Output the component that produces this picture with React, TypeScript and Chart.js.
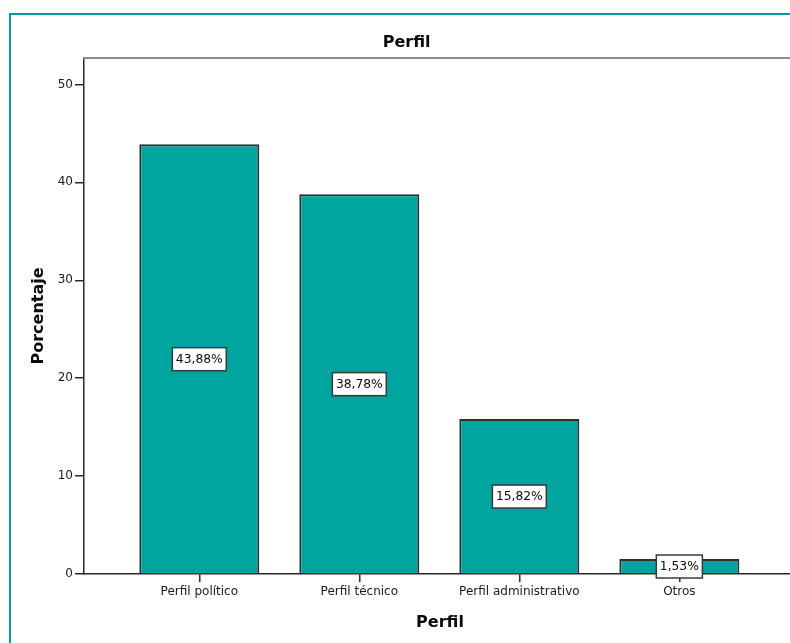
import React, { useEffect, useRef } from "react";
import { Chart, registerables } from "chart.js";

Chart.register(...registerables);

const categories = ["Perfil político", "Perfil técnico", "Perfil administrativo", "Otros"];
const percentages = [43.88, 38.78, 15.82, 1.53];
const yTickValues = [0, 10, 20, 30, 40, 50];
const chartTitle = "Perfil";
const xAxisTitle = "Perfil";
const yAxisTitle = "Porcentaje";

const FONT = "'DejaVu Sans', sans-serif";
const BAR_COLOR = "#01A5A0";
const FRAME_COLOR = "#0A9B96";

export default function App() {
  const ref = useRef<HTMLCanvasElement>(null);

  useEffect(() => {
    const canvas = ref.current;
    if (!canvas) return;

    const labelPlugin = {
      id: "barLabels",
      afterDatasetsDraw(chart: any) {
        const ctx = chart.ctx;
        const meta = chart.getDatasetMeta(0);
        const yScale = chart.scales.y;
        ctx.save();
        ctx.font = `12.3px ${FONT}`;
        ctx.textAlign = "center";
        ctx.textBaseline = "middle";
        meta.data.forEach((bar: any, i: number) => {
          const v = percentages[i];
          const text = v.toFixed(2).replace(".", ",") + "%";
          const cx = bar.x;
          const cy = yScale.getPixelForValue(v / 2);
          const w = ctx.measureText(text).width + 7;
          const h = 23;
          ctx.fillStyle = "#ffffff";
          ctx.fillRect(cx - w / 2, cy - h / 2, w, h);
          ctx.strokeStyle = "#3a3a3a";
          ctx.lineWidth = 1.5;
          ctx.strokeRect(cx - w / 2, cy - h / 2, w, h);
          ctx.fillStyle = "#0a0a0a";
          ctx.fillText(text, cx, cy + 0.5);
        });
        ctx.restore();
      },
    };

    const topBorderPlugin = {
      id: "topBorder",
      afterDraw(chart: any) {
        const ctx = chart.ctx;
        const { left, top } = chart.chartArea;
        ctx.save();
        ctx.strokeStyle = "#8c8c8c";
        ctx.lineWidth = 2;
        ctx.beginPath();
        ctx.moveTo(left - 1, top);
        ctx.lineTo(chart.width, top);
        ctx.stroke();
        ctx.restore();
      },
    };

    const chart = new Chart(canvas, {
      type: "bar",
      data: {
        datasets: [
          {
            label: "Porcentaje",
            data: percentages.map((v, i) => ({ x: i, y: v })),
            backgroundColor: BAR_COLOR,
            borderColor: "#2e2e2e",
            borderWidth: 2,
            categoryPercentage: 1,
            barPercentage: 0.75,
          },
        ],
      },
      options: {
        responsive: false,
        animation: false,
        devicePixelRatio: 1,
        layout: { padding: { left: 17.4, right: 0, top: 28, bottom: 0 } },
        plugins: {
          legend: { display: false },
          tooltip: { enabled: false },
          title: {
            display: true,
            text: chartTitle,
            color: "#0a0a0a",
            font: { family: FONT, size: 16, weight: "bold" },
            padding: { top: 5.4, bottom: 5.4 },
          },
        },
        scales: {
          x: {
            type: "linear",
            min: -0.7206,
            max: 3.729,
            offset: false,
            afterBuildTicks: (s: any) => {
              s.ticks = categories.map((_, i) => ({ value: i }));
            },
            afterFit: (s: any) => {
              s.height = 69;
            },
            ticks: {
              autoSkip: false,
              maxRotation: 0,
              padding: 3,
              color: "#1a1a1a",
              font: { family: FONT, size: 12 },
              callback: (_v: any, index: number) => categories[index] ?? "",
            },
            grid: {
              offset: false,
              drawOnChartArea: false,
              drawTicks: true,
              tickLength: 8,
              color: "#2a2a2a",
              lineWidth: 1.5,
            },
            border: { display: true, color: "#2a2a2a", width: 1.5 },
            title: {
              display: true,
              text: xAxisTitle,
              color: "#0a0a0a",
              font: { family: FONT, size: 16, weight: "bold" },
              padding: { top: 0, bottom: 11 },
            },
          },
          y: {
            type: "linear",
            min: 0,
            max: 52.7,
            afterBuildTicks: (s: any) => {
              s.ticks = yTickValues.map((v) => ({ value: v }));
            },
            afterFit: (s: any) => {
              s.width = 66.6;
            },
            ticks: {
              padding: 2,
              color: "#1a1a1a",
              font: { family: FONT, size: 12 },
            },
            grid: {
              drawOnChartArea: false,
              drawTicks: true,
              tickLength: 9,
              color: "#2a2a2a",
              lineWidth: 1.5,
            },
            border: { display: true, color: "#2a2a2a", width: 1.5 },
            title: {
              display: true,
              text: yAxisTitle,
              color: "#0a0a0a",
              font: { family: FONT, size: 16, weight: "bold" },
              padding: { top: 11.5, bottom: 0 },
            },
          },
        },
      } as any,
      plugins: [labelPlugin, topBorderPlugin],
    });

    return () => chart.destroy();
  }, []);

  return (
    <div
      style={{
        position: "fixed",
        left: 0,
        top: 0,
        width: 790,
        height: 643,
        overflow: "hidden",
        background: "#ffffff",
      }}
    >
      <div
        style={{
          position: "absolute",
          left: 9,
          top: 13,
          width: 900,
          height: 800,
          borderLeft: `2px solid ${FRAME_COLOR}`,
          borderTop: `2px solid ${FRAME_COLOR}`,
          boxSizing: "border-box",
        }}
      />
      <canvas
        ref={ref}
        width={796}
        height={643}
        style={{ position: "absolute", left: 0, top: 0, display: "block" }}
      />
    </div>
  );
}
